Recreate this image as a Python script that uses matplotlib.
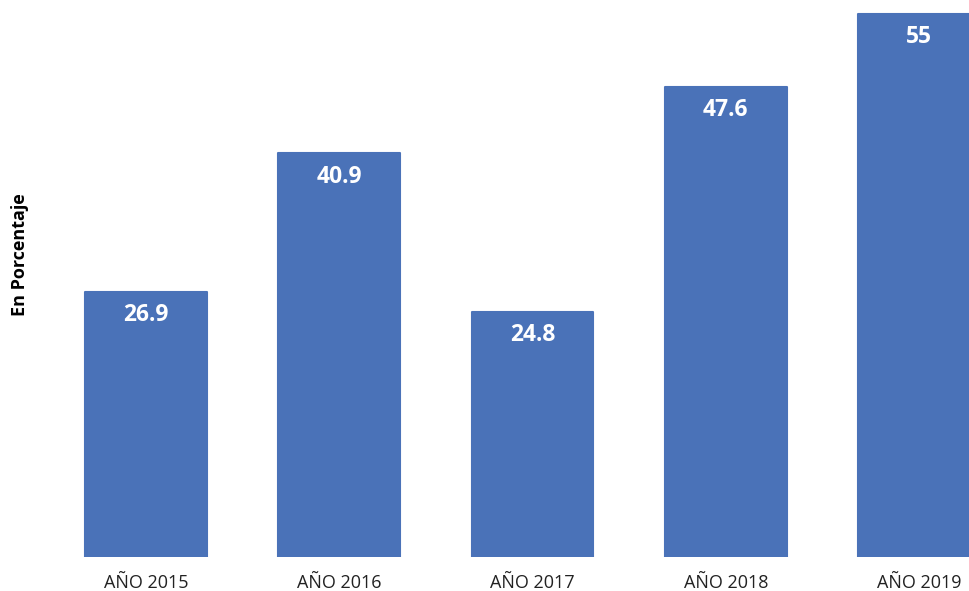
import matplotlib
matplotlib.use("Agg")
import matplotlib.pyplot as plt

plt.rcParams['font.family'] = ['Open Sans', 'DejaVu Sans']

years = ['AÑO 2015', 'AÑO 2016', 'AÑO 2017', 'AÑO 2018', 'AÑO 2019']
values = [26.9, 40.9, 24.8, 47.6, 55]

W, H = 970, 591
fig = plt.figure(figsize=(W / 100, H / 100), dpi=100)

# axes placed in pixel terms to match the reference layout
left_px, bottom_px = 50, 557
ax = fig.add_axes([left_px / W, (H - bottom_px) / H, (W - left_px) / W, bottom_px / H])

step_px = 193.25
c0_px = 146
ax.set_xlim((left_px - c0_px) / step_px, (W - c0_px) / step_px)
ax.set_ylim(0, 56.45)

color = '#4A72B8'
x = range(len(values))
bars = ax.bar(x, values, width=0.63, color=color, edgecolor=color,
              linewidth=1.5, joinstyle='round')

for b, v in zip(bars, values):
    ax.annotate(f"{v:g}", (b.get_x() + b.get_width() / 2, v),
                xytext=(0, -8), textcoords='offset points',
                ha='center', va='top', color='white',
                fontsize=16.5, fontweight='bold')

ax.set_xticks(list(x))
ax.set_xticklabels(years, fontsize=13, color='#222222')
ax.tick_params(axis='x', length=0, pad=12)
ax.set_yticks([])
for s in ax.spines.values():
    s.set_visible(False)

fig.text(20 / W, 1 - 255 / H, 'En Porcentaje', rotation=90, ha='center',
         va='center', fontsize=13, fontweight='bold', color='black')

fig.savefig('out.png', dpi=100)
